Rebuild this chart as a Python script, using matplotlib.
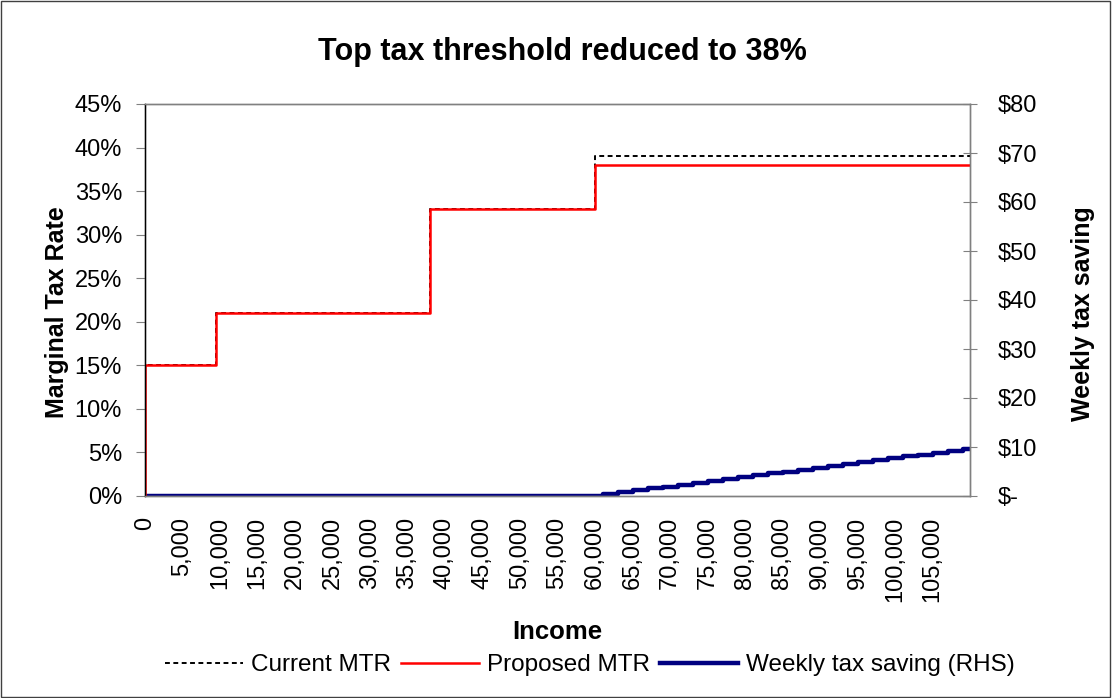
import matplotlib
matplotlib.use('Agg')
import matplotlib.pyplot as plt
from matplotlib.patches import Rectangle

plt.rcParams['font.family'] = ['Liberation Sans', 'DejaVu Sans']

# marginal tax rate schedule (income, rate %) - step starts
current_income = [0, 0, 9500, 38000, 60000, 110000]
current_mtr = [0, 15, 21, 33, 39, 39]
proposed_income = [0, 0, 9500, 38000, 60000, 110000]
proposed_mtr = [0, 15, 21, 33, 38, 38]

# weekly tax saving (RHS), staircase
saving_income = [0, 61000, 63000, 65000, 67000, 69000, 71000, 73000, 75000, 77000,
                 79000, 81000, 83000, 85000, 87000, 89000, 91000, 93000, 95000,
                 97000, 99000, 101000, 103000, 105000, 107000, 109000, 110000]
saving = [0, 0.38, 0.77, 1.15, 1.54, 1.92, 2.31, 2.69, 3.08, 3.46, 3.85, 4.23, 4.62,
          5.00, 5.38, 5.77, 6.15, 6.54, 6.92, 7.31, 7.69, 8.08, 8.46, 8.85, 9.23,
          9.62, 9.62]

xticks = list(range(0, 110000, 5000))
xlabels = ['{:,}'.format(v) for v in xticks]
yticks = list(range(0, 50, 5))
rticks = list(range(0, 90, 10))
rlabels = ['$-'] + ['${}'.format(v) for v in rticks[1:]]

fig = plt.figure(figsize=(11.12, 6.98), dpi=100)
fig.subplots_adjust(left=145/1112, right=970/1112, top=1-104/698, bottom=1-496/698)
ax = fig.add_subplot(111)
ax2 = ax.twinx()

l1, = ax.step(current_income, current_mtr, where='post', color='black',
              linestyle=(0, (2.5, 1.8)), linewidth=1.4, label='Current MTR')
l2, = ax.step(proposed_income, proposed_mtr, where='post', color='#FF0000',
              linewidth=1.8, label='Proposed MTR')
l3, = ax2.step(saving_income, saving, where='post', color='#000080',
               linewidth=3.2, label='Weekly tax saving (RHS)')
ax.set_zorder(ax2.get_zorder() + 1)
ax.patch.set_visible(False)

ax.set_xlim(0, 110000)
ax.set_ylim(0, 45)
ax2.set_ylim(0, 80)
ax.set_xticks(xticks)
ax.set_xticklabels(xlabels, rotation=90, fontsize=17)
ax.tick_params(axis='x', length=0, pad=15)
ax.set_yticks(yticks)
ax.set_yticklabels(['{}%'.format(v) for v in yticks], fontsize=17)
ax.tick_params(axis='y', length=6.5, color='#808080', pad=10)
ax2.set_yticks(rticks)
ax2.set_yticklabels(rlabels, fontsize=17)
ax2.tick_params(axis='y', length=10, direction='inout', color='#808080', pad=15)

for a in (ax, ax2):
    for s in a.spines.values():
        s.set_color('#808080')
        s.set_linewidth(1)
ax.spines['left'].set_color('black')

fig.text(57/1112, 1-312/698, 'Marginal Tax Rate', fontsize=18, fontweight='bold',
         rotation=90, ha='center', va='center')
fig.text(1083/1112, 1-314/698, 'Weekly tax saving', fontsize=18, fontweight='bold',
         rotation=90, ha='center', va='center')
fig.text(562/1112, 1-52/698, 'Top tax threshold reduced to 38%', fontsize=22,
         fontweight='bold', ha='center', va='center')
fig.text(557/1112, 1-632/698, 'Income', fontsize=18.5, fontweight='bold',
         ha='center', va='center')

fig.legend(handles=[l1, l2, l3], loc='center', bbox_to_anchor=(590/1112, 1-665/698),
           ncol=3, frameon=False, fontsize=17.5, handlelength=3.2, columnspacing=0.4,
           handletextpad=0.35)

fig.patches.append(Rectangle((0.001, 0.001), 0.997, 0.997, transform=fig.transFigure,
                             fill=False, edgecolor='#404040', linewidth=1))

fig.savefig('out.png', dpi=100)
